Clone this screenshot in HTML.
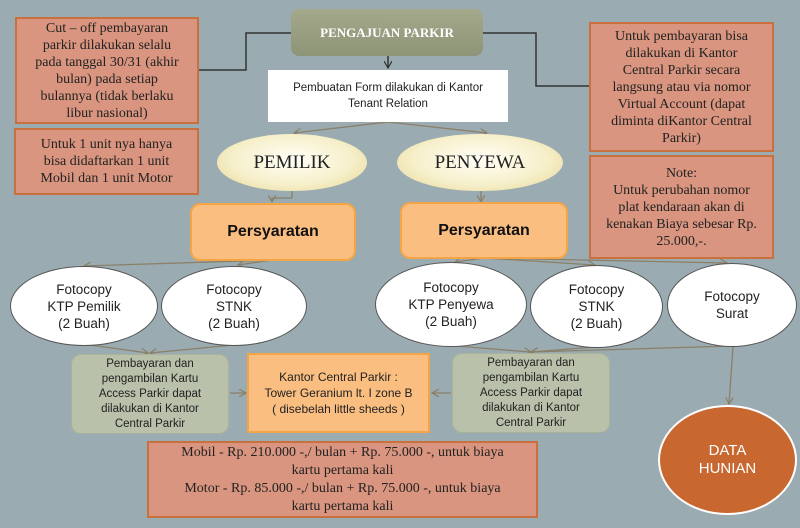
<!DOCTYPE html>
<html><head><meta charset="utf-8"><style>
body{margin:0;width:800px;height:528px;background:#9aacb2;position:relative;overflow:hidden;font-family:"Liberation Sans",sans-serif}
.a{position:absolute;box-sizing:border-box;display:flex;align-items:center;justify-content:center;text-align:center;white-space:nowrap}
.sal{background:#d9957f;border:2px solid #c9703f;font-family:"Liberation Serif",serif;font-size:14px;line-height:17px;color:#222}
.grn{background:#b9c1ab;border:1px solid #aab299;border-radius:10px;font-size:11.5px;line-height:15px;color:#222}
.per{background:#fbbe81;border:2px solid #f3a447;border-radius:10px;font-size:16px;font-weight:bold;color:#111}
.ell{border-radius:50%;background:#fff;border:1.5px solid #555;font-size:13.5px;line-height:17px;color:#222}
.gold{border-radius:50%;background:radial-gradient(ellipse at 50% 45%,#fffef6 0%,#f7f0cc 55%,#e4d591 100%);font-family:"Liberation Serif",serif;font-size:19px;color:#222}
</style></head><body>
<svg class="a" style="left:0;top:0;display:block" width="800" height="528">
<defs><marker id="m" markerWidth="8" markerHeight="8" refX="7" refY="4" orient="auto" markerUnits="userSpaceOnUse"><path d="M0,0 L7,4 L0,8" fill="none" stroke="#8b7f68" stroke-width="1.2"/></marker>
<marker id="k" markerWidth="8" markerHeight="8" refX="7" refY="4" orient="auto" markerUnits="userSpaceOnUse"><path d="M0,0 L7,4 L0,8" fill="none" stroke="#333" stroke-width="1.2"/></marker></defs>
<g fill="none" stroke="#333" stroke-width="1.5">
<polyline points="291,33 246,33 246,70 199,70"/>
<polyline points="483,33 536,33 536,86 589,86"/>
<line x1="388" y1="56" x2="388" y2="68" marker-end="url(#k)"/>
</g>
<g fill="none" stroke="#8b7f68" stroke-width="1.3">
<line x1="388" y1="122" x2="294" y2="133" marker-end="url(#m)"/>
<line x1="388" y1="122" x2="487" y2="133" marker-end="url(#m)"/>
<polyline points="292,191 292,198 272,198 272,202" marker-end="url(#m)"/>
<line x1="481" y1="191" x2="481" y2="202" marker-end="url(#m)"/>
<line x1="272" y1="260" x2="84" y2="266" marker-end="url(#m)"/>
<line x1="272" y1="260" x2="238" y2="265" marker-end="url(#m)"/>
<line x1="484" y1="258" x2="455" y2="262" marker-end="url(#m)"/>
<line x1="484" y1="258" x2="595" y2="265" marker-end="url(#m)"/>
<line x1="484" y1="258" x2="727" y2="263" marker-end="url(#m)"/>
<line x1="90" y1="345" x2="148" y2="353" marker-end="url(#m)"/>
<line x1="233" y1="345" x2="150" y2="353" marker-end="url(#m)"/>
<line x1="455" y1="346" x2="531" y2="352" marker-end="url(#m)"/>
<line x1="595" y1="347" x2="531" y2="352" marker-end="url(#m)"/>
<line x1="732" y1="346" x2="531" y2="352" marker-end="url(#m)"/>
<line x1="733" y1="347" x2="729" y2="404" marker-end="url(#m)"/>
<line x1="230" y1="393" x2="246" y2="393" marker-end="url(#m)"/>
<line x1="451" y1="393" x2="432" y2="393" marker-end="url(#m)"/>
</g></svg>
<div class="a" style="left:291px;top:9px;width:192px;height:47px;border-radius:8px;background:linear-gradient(#a4a98b,#8e9477);color:#fff;font-family:'Liberation Serif',serif;font-weight:bold;font-size:13px">PENGAJUAN PARKIR</div>
<div class="a sal" style="left:15px;top:17px;width:184px;height:107px">Cut – off pembayaran<br>parkir dilakukan selalu<br>pada tanggal 30/31 (akhir<br>bulan) pada setiap<br>bulannya (tidak berlaku<br>libur nasional)</div>
<div class="a sal" style="left:14px;top:128px;width:185px;height:67px">Untuk 1 unit nya hanya<br>bisa didaftarkan 1 unit<br>Mobil dan 1 unit Motor</div>
<div class="a" style="left:268px;top:70px;width:240px;height:52px;background:#fff;font-size:11.5px;line-height:16px;color:#222">Pembuatan Form dilakukan di Kantor<br>Tenant Relation</div>
<div class="a gold" style="left:217px;top:134px;width:150px;height:57px">PEMILIK</div>
<div class="a gold" style="left:397px;top:134px;width:166px;height:57px">PENYEWA</div>
<div class="a sal" style="left:589px;top:22px;width:185px;height:130px">Untuk pembayaran bisa<br>dilakukan di Kantor<br>Central Parkir secara<br>langsung atau via nomor<br>Virtual Account (dapat<br>diminta diKantor Central<br>Parkir)</div>
<div class="a sal" style="left:589px;top:155px;width:185px;height:104px">Note:<br>Untuk perubahan nomor<br>plat kendaraan akan di<br>kenakan Biaya sebesar Rp.<br>25.000,-.</div>
<div class="a per" style="left:190px;top:203px;width:166px;height:58px">Persyaratan</div>
<div class="a per" style="left:400px;top:202px;width:168px;height:57px">Persyaratan</div>
<div class="a ell" style="left:10px;top:266px;width:148px;height:80px">Fotocopy<br>KTP Pemilik<br>(2 Buah)</div>
<div class="a ell" style="left:161px;top:266px;width:146px;height:80px">Fotocopy<br>STNK<br>(2 Buah)</div>
<div class="a ell" style="left:375px;top:262px;width:152px;height:85px">Fotocopy<br>KTP Penyewa<br>(2 Buah)</div>
<div class="a ell" style="left:530px;top:265px;width:133px;height:83px">Fotocopy<br>STNK<br>(2 Buah)</div>
<div class="a ell" style="left:667px;top:263px;width:130px;height:84px">Fotocopy<br>Surat</div>
<div class="a grn" style="left:71px;top:354px;width:158px;height:80px">Pembayaran dan<br>pengambilan Kartu<br>Access Parkir dapat<br>dilakukan di Kantor<br>Central Parkir</div>
<div class="a" style="left:247px;top:353px;width:183px;height:80px;background:#fbbe81;border:2px solid #f3a447;box-sizing:border-box;font-size:12px;line-height:16px;color:#222">Kantor Central Parkir :<br>Tower Geranium lt. I zone B<br>( disebelah little sheeds )</div>
<div class="a grn" style="left:452px;top:353px;width:158px;height:80px">Pembayaran dan<br>pengambilan Kartu<br>Access Parkir dapat<br>dilakukan di Kantor<br>Central Parkir</div>
<div class="a sal" style="left:147px;top:441px;width:391px;height:77px;font-size:14px;line-height:18px">Mobil - Rp. 210.000 -,/ bulan + Rp. 75.000 -, untuk biaya<br>kartu pertama kali<br>Motor - Rp. 85.000 -,/ bulan + Rp. 75.000 -, untuk biaya<br>kartu pertama kali</div>
<div class="a" style="left:658px;top:405px;width:139px;height:110px;border-radius:50%;background:#c8672f;border:2px solid #fff;color:#fff;font-size:15px;line-height:18px">DATA<br>HUNIAN</div>
</body></html>
